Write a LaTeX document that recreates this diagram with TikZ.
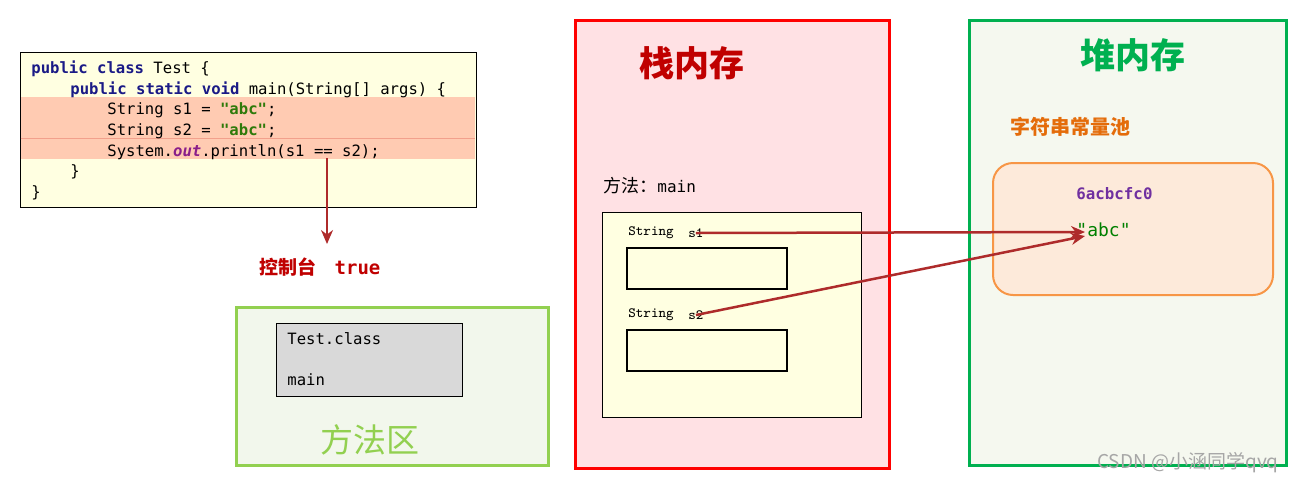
\documentclass[tikz,border=0pt]{standalone}
\usepackage{fontspec}
\newfontfamily\cjk{Noto Sans CJK SC}
\newfontfamily\codefont{DejaVu Sans Mono}
\usetikzlibrary{arrows.meta,positioning,calc}

\definecolor{codebg}{HTML}{FFFFE1}
\definecolor{hlbg}{HTML}{FFCBB2}
\definecolor{hlrule}{HTML}{F2A08C}
\definecolor{kwblue}{HTML}{1A1A86}
\definecolor{strgreen}{HTML}{2E7A0A}
\definecolor{fieldpurple}{HTML}{8A1E8A}
\definecolor{refred}{HTML}{AE2B2B}
\definecolor{darkred}{HTML}{C00000}
\definecolor{areagreen}{HTML}{92D050}
\definecolor{areabg}{HTML}{F2F7EC}
\definecolor{stackred}{HTML}{FF0000}
\definecolor{stackbg}{HTML}{FFE1E4}
\definecolor{heapgreen}{HTML}{00B050}
\definecolor{heapbg}{HTML}{F5F8EF}
\definecolor{poolorange}{HTML}{F79646}
\definecolor{poolbg}{HTML}{FDEADA}
\definecolor{pooltitle}{HTML}{E46C0A}
\definecolor{addrpurple}{HTML}{7030A0}
\definecolor{abcgreen}{HTML}{008000}

\newcommand{\kw}[1]{\textcolor{kwblue}{\bfseries #1}}
\newcommand{\jstr}[1]{\textcolor{strgreen}{\bfseries #1}}

\begin{document}
\begin{tikzpicture}[
  x=0.5pt, y=-0.5pt,
  >={Stealth[length=7pt, width=6pt]},
  region/.style={draw, line width=1.5pt, inner sep=0pt},
  frame/.style ={draw=black, line width=0.5pt, inner sep=0pt},
  slot/.style  ={draw=black, line width=1pt, fill=codebg, inner sep=0pt,
                 minimum width=80pt, minimum height=20.5pt},
  codeln/.style={anchor=base west, inner sep=0pt, font=\codefont\fontsize{7.8}{9}\selectfont},
  vartxt/.style={anchor=west, inner sep=0pt, font=\ttfamily\fontsize{7.1}{8}\selectfont},
  title/.style ={font=\cjk\bfseries\fontsize{17.5}{20}\selectfont, inner sep=0pt},
  ref/.style   ={->, line width=1.25pt, refred},
]
\useasboundingbox (0,0) rectangle (1293,483);

% ---------- Source code ----------
\node[frame, fill=codebg, minimum width=228pt, minimum height=77.5pt] (code) at (248,129.5) {};
\node[inner sep=0pt, fill=hlbg, minimum width=227pt, minimum height=31pt] (hl) at (248,128) {};
\draw[hlrule, line width=0.4pt] ($(hl.west)+(0,10)$) -- ($(hl.east)+(0,10)$);

\node[codeln] (c0) at (31,73)  {\kw{public class} Test \{};
\node[codeln] (c1) at (70,94)  {\kw{public static void} main(String[] args) \{};
\node[codeln] (c2) at (107,114) {String s1 = \jstr{"abc"};};
\node[codeln] (c3) at (107,135) {String s2 = \jstr{"abc"};};
\node[codeln] (c4) at (107,156) {System.\textcolor{fieldpurple}{\bfseries\itshape out}.println(s1 == s2);};
\node[codeln] (c5) at (70,176)  {\}};
\node[codeln] (c6) at (31,197)  {\}};

% console output
\coordinate (cmp) at (327,158);
\node[inner sep=0pt, text=darkred, font=\bfseries\fontsize{9.5}{11}\selectfont] (console) at (320,267)
  {{\cjk 控制台}\hspace{9pt}{\codefont true}};
\draw[->, line width=1pt, refred] (cmp) -- (cmp |- {(0,244)});

% ---------- Method area ----------
\node[region, draw=areagreen, fill=areabg, minimum width=156pt, minimum height=79pt] (area) at (392,386) {};
\node[frame, fill=black!15, minimum width=93pt, minimum height=36.5pt] (cls) at (369,359.5) {};
\node[codeln, anchor=west] (clsname) at (287,339) {Test.class};
\node[codeln, anchor=west] (clsmain) at (287,380) {main};
\node[inner sep=0pt, text=areagreen, font=\cjk\fontsize{16.5}{18}\selectfont] (areat) at (370,440) {方法区};

% ---------- Stack ----------
\node[region, draw=stackred, fill=stackbg, minimum width=157pt, minimum height=224pt] (stack) at (732,244) {};
\node[title, text=darkred] (stackt) at (692,63) {栈内存};
\node[anchor=west, inner sep=0pt] (meth) at (603,186)
  {{\cjk\fontsize{9}{10}\selectfont 方法：}{\codefont\fontsize{8}{9}\selectfont main}};
\node[frame, fill=codebg, minimum width=129.5pt, minimum height=102.5pt] (mframe) at (731.5,314.5) {};

\node[vartxt] (s1t) at (628,233) {String};
\node[vartxt] (s1n) at (688,233) {s1};
\node[slot] (s1box) at (707,268.5) {};
\node[vartxt] (s2t) at (628,315) {String};
\node[vartxt] (s2n) at (688,315) {s2};
\node[slot] (s2box) at (707,350.5) {};

% ---------- Heap ----------
\node[region, draw=heapgreen, fill=heapbg, minimum width=158.5pt, minimum height=222.5pt] (heap) at (1127.5,242.5) {};
\node[title, text=heapgreen] (heapt) at (1133,55) {堆内存};
\node[inner sep=0pt, text=pooltitle, font=\cjk\bfseries\fontsize{10}{12}\selectfont] (poolt) at (1070,127) {字符串常量池};
\node[draw=poolorange, line width=1pt, fill=poolbg, rounded corners=10pt,
      minimum width=140pt, minimum height=66pt, inner sep=0pt] (pool) at (1133,229) {};
\node[anchor=west, inner sep=0pt, text=addrpurple, font=\codefont\bfseries\fontsize{7.9}{9}\selectfont] (addr) at (1076,194) {6acbcfc0};
\node[anchor=west, inner sep=0pt, text=abcgreen, font=\codefont\fontsize{9}{10}\selectfont] (abc) at (1076,230) {"abc"};

% references
\draw[ref] (s1n.center) -- ([shift={(9,2)}]abc.west);
\draw[ref] (s2n.center) -- ([shift={(9,6)}]abc.west);

% watermark
\node[inner sep=0pt, text=black!35, font=\cjk\fontsize{9.5}{11}\selectfont] (wm) at (1188,463) {CSDN @小涵同学qvq};
\end{tikzpicture}
\end{document}
